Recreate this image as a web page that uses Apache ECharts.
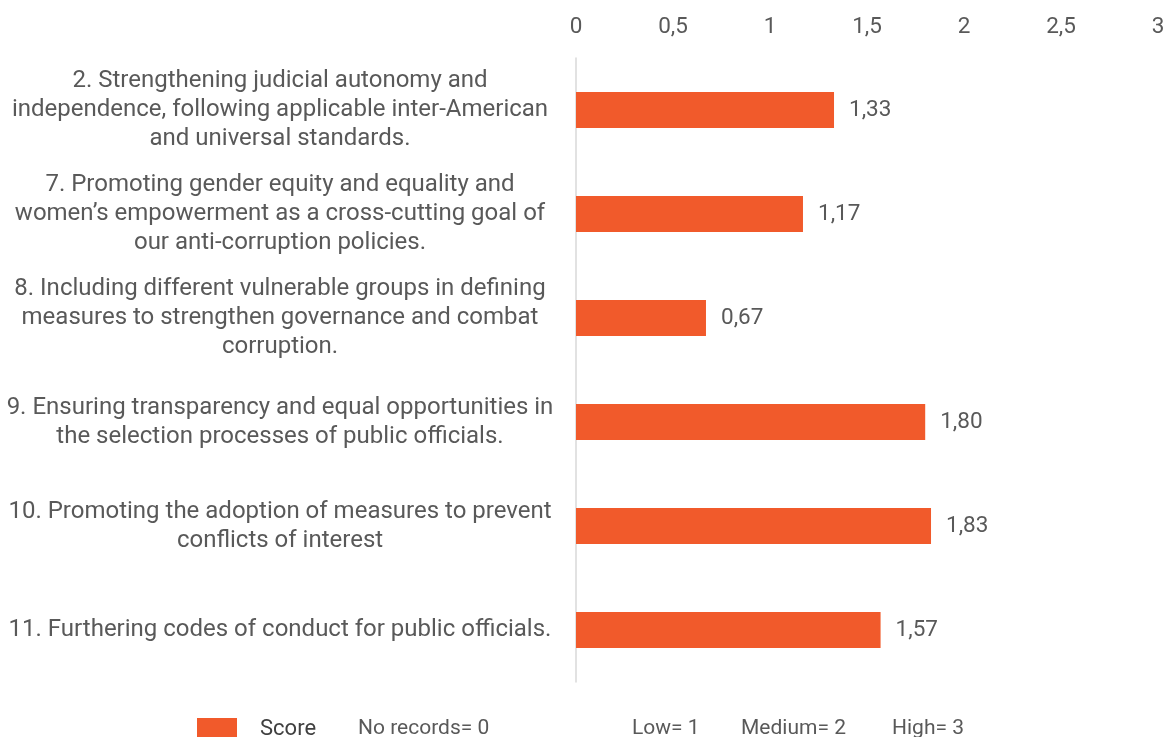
<!DOCTYPE html>
<html><head><meta charset="utf-8">
<script src="https://cdn.jsdelivr.net/npm/echarts@6/dist/echarts.min.js"></script>
<style>html,body{margin:0;padding:0;background:#fff}#c{width:1169px;height:737px}</style>
</head><body><div id="c"></div>
<script>
const categories = [
  "2. Strengthening judicial autonomy and\nindependence, following applicable inter-American\nand universal standards.",
  "7. Promoting gender equity and equality and\nwomen\u2019s empowerment as a cross-cutting goal of\nour anti-corruption policies.",
  "8. Including different vulnerable groups in defining\nmeasures to strengthen governance and combat\ncorruption.",
  "9. Ensuring transparency and equal opportunities in\nthe selection processes of public officials.",
  "10. Promoting the adoption of measures to prevent\nconflicts of interest",
  "11. Furthering codes of conduct for public officials."
];
const scores = [1.33, 1.17, 0.67, 1.80, 1.83, 1.57];
const seriesName = "Score";
const scaleNotes = ["No records= 0", "Low= 1", "Medium= 2", "High= 3"];
const notePositions = [358, 632, 741, 892];

const txt = '#595959';
const font = 'Roboto';
const chart = echarts.init(document.getElementById('c'), null, {renderer:'canvas'});
chart.setOption({
  animation:false,
  textStyle:{fontFamily:font},
  grid:{left:576, right:11, top:58, bottom:55},
  xAxis:{type:'value', position:'top', min:0, max:3, interval:0.5,
    axisLine:{show:false}, axisTick:{show:false}, splitLine:{show:false},
    axisLabel:{color:txt, fontSize:22.5, fontFamily:font, margin:19,
      formatter:v=>String(v).replace('.',',')}},
  yAxis:{type:'category', inverse:true, data:categories,
    axisLine:{show:true, lineStyle:{color:'#d9d9d9', width:1.5}},
    axisTick:{show:false},
    axisLabel:{color:txt, fontFamily:font, margin:23, align:'right',
      formatter:v=>'{a|'+v+'}',
      rich:{a:{width:546, align:'center', fontSize:24, lineHeight:29, color:txt, fontFamily:font}}}},
  legend:{show:true, left:192, bottom:-8, itemWidth:40, itemHeight:22, itemGap:10,
    icon:'rect', data:[seriesName],
    textStyle:{color:'#404040', fontSize:22, fontFamily:font, padding:[0,0,0,18]}},
  graphic: scaleNotes.map((t,i)=>({type:'text', left:notePositions[i], top:718,
    style:{text:t, fill:txt, font:'21px Roboto'}})),
  series:[{name:seriesName, type:'bar', data:scores, barWidth:36,
    itemStyle:{color:'#F15A2B'},
    label:{show:true, position:'right', distance:15, color:txt, fontSize:22.5, fontFamily:font,
      formatter:p=>p.value.toFixed(2).replace('.',',')}}]
});
</script></body></html>
